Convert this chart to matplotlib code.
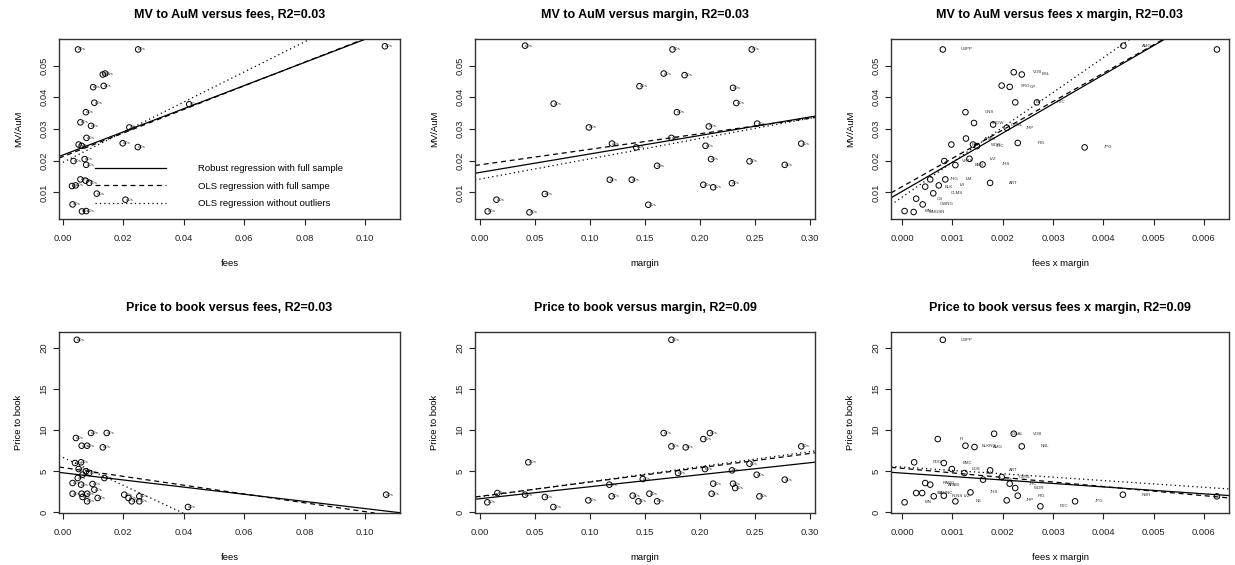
"""
MV/AuM と Price to book を fees / margin / fees x margin に対して散布図で描く
（R の base graphics 風の 2x3 パネル）
"""

import numpy as np
import matplotlib
matplotlib.use('Agg')
import matplotlib.pyplot as plt
from matplotlib.transforms import offset_copy

plt.rcParams['font.family'] = ['Liberation Sans', 'DejaVu Sans']

# ---- データ ----
# MV to AuM vs fees
mv_fees_x = [0.0050, 0.0249, 0.1066, 0.0132, 0.0140, 0.0100, 0.0135, 0.0104, 0.0076, 0.0058,
             0.0093, 0.0078, 0.0052, 0.0062, 0.0220, 0.0198, 0.0248, 0.0418, 0.0035, 0.0072,
             0.0077, 0.0058, 0.0075, 0.0087, 0.0030, 0.0042, 0.0112, 0.0207, 0.0032, 0.0063, 0.0077]
mv_fees_y = [0.0551, 0.0551, 0.0561, 0.0472, 0.0475, 0.0432, 0.0436, 0.0383, 0.0353, 0.0321,
             0.0310, 0.0272, 0.0251, 0.0247, 0.0305, 0.0255, 0.0243, 0.0378, 0.0199, 0.0205,
             0.0187, 0.0141, 0.0137, 0.0130, 0.0120, 0.0122, 0.0096, 0.0077, 0.0062, 0.0040, 0.0041]

# MV to AuM vs margin
mv_margin_x = [0.041, 0.175, 0.247, 0.167, 0.186, 0.145, 0.230, 0.067, 0.233, 0.179, 0.099,
               0.208, 0.252, 0.120, 0.142, 0.174, 0.205, 0.292, 0.161, 0.210, 0.245, 0.277,
               0.118, 0.138, 0.203, 0.212, 0.229, 0.059, 0.015, 0.153, 0.007, 0.045]
mv_margin_y = [0.0563, 0.0551, 0.0551, 0.0475, 0.0470, 0.0435, 0.0430, 0.0380, 0.0382, 0.0353,
               0.0305, 0.0308, 0.0317, 0.0254, 0.0242, 0.0272, 0.0247, 0.0254, 0.0184, 0.0205,
               0.0198, 0.0187, 0.0140, 0.0140, 0.0124, 0.0116, 0.0129, 0.0095, 0.0077, 0.0061,
               0.0040, 0.0037]

# MV to AuM vs fees x margin（右端の点のラベルは R では枠外で見えない）
mv_fxm_x = [0.00081, 0.00440, 0.00626, 0.00222, 0.00238, 0.00198, 0.00214, 0.00225, 0.00268,
            0.00126, 0.00143, 0.00181, 0.00208, 0.00127, 0.00098, 0.00141, 0.00149, 0.00230,
            0.00363, 0.00084, 0.00106, 0.00134, 0.00160, 0.00175, 0.00056, 0.00086, 0.00046,
            0.00073, 0.00062, 0.00028, 0.00041, 0.00005, 0.00023]
mv_fxm_y = [0.0551, 0.0563, 0.0551, 0.0479, 0.0472, 0.0437, 0.0433, 0.0384, 0.0384, 0.0353,
            0.0319, 0.0314, 0.0304, 0.0270, 0.0251, 0.0251, 0.0246, 0.0256, 0.0242, 0.0199,
            0.0186, 0.0206, 0.0188, 0.0130, 0.0141, 0.0141, 0.0118, 0.0122, 0.0097, 0.0080,
            0.0062, 0.0041, 0.0038]
mv_fxm_labels = ['UBPP', 'AMG', '', 'VOB', 'BSL', 'SRG', 'GP', 'EV', 'RJC', 'CNS', 'TROW',
                 'OVNL', 'JHP', 'APAM', 'FHI', 'WDR', 'JHC', 'PIG', 'JPG', 'VRTS', 'BEN', 'IVZ',
                 'JHS', 'ART', 'JHG', 'LM', 'BLK', 'IVI', 'CLMS', 'CS', 'CWNG', 'MN', 'MNGSN']

# Price to book vs fees
pb_fees_x = [0.0046, 0.0043, 0.0093, 0.0145, 0.0062, 0.0080, 0.0132, 0.0040, 0.0060, 0.0052,
             0.0076, 0.0087, 0.0065, 0.0049, 0.0137, 0.0032, 0.0060, 0.0098, 0.0104, 0.0032,
             0.0062, 0.0080, 0.0115, 0.0065, 0.0080, 0.0203, 0.0217, 0.0228, 0.0253, 0.0253,
             0.1070, 0.0414]
pb_fees_y = [21.0, 9.05, 9.66, 9.66, 8.11, 8.11, 7.91, 6.01, 6.09, 5.27, 4.99, 4.79, 4.59,
             4.18, 4.18, 3.57, 3.37, 3.45, 2.76, 2.27, 2.27, 2.27, 1.75, 1.87, 1.34, 2.15,
             1.75, 1.34, 1.95, 1.34, 2.15, 0.65]

# Price to book vs margin
pb_margin_x = [0.174, 0.167, 0.209, 0.203, 0.174, 0.187, 0.292, 0.044, 0.245, 0.2045, 0.229,
               0.180, 0.2515, 0.148, 0.1176, 0.212, 0.230, 0.232, 0.277, 0.254, 0.041, 0.0158,
               0.059, 0.1197, 0.1388, 0.154, 0.2106, 0.0985, 0.144, 0.161, 0.0067, 0.0667]
pb_margin_y = [21.0, 9.65, 9.65, 8.92, 8.03, 7.91, 8.03, 6.09, 5.92, 5.27, 5.11, 4.79, 4.58,
               4.06, 3.37, 3.49, 3.49, 2.96, 3.98, 1.95, 2.15, 2.35, 1.87, 1.95, 2.03, 2.27,
               2.27, 1.46, 1.34, 1.34, 1.22, 0.65]

# Price to book vs fees x margin
pb_fxm_x = [0.00081, 0.00071, 0.00183, 0.00222, 0.00126, 0.00144, 0.00238, 0.00024, 0.00083,
            0.00099, 0.00124, 0.00175, 0.00161, 0.00198, 0.00214, 0.00046, 0.00056, 0.00225,
            0.00028, 0.00040, 0.00063, 0.00083, 0.00136, 0.00208, 0.00230, 0.00106, 0.00005,
            0.00275, 0.00344, 0.00439, 0.00626]
pb_fxm_y = [21.0, 8.92, 9.57, 9.57, 8.11, 7.95, 8.03, 6.09, 6.00, 5.27, 4.79, 5.11, 3.98,
            4.30, 3.49, 3.57, 3.37, 2.96, 2.35, 2.35, 1.95, 2.03, 2.43, 1.46, 2.03, 1.34,
            1.22, 0.73, 1.34, 2.15, 1.95]
pb_fxm_labels = ['UBPP', 'FI', 'GHAL', 'VOB', 'BLKNC', 'AMG', 'NBL', 'FDG', 'BMC', 'LDS', 'EV',
                 'ART', 'TROW', 'OVNL', 'JHC', 'RABG', 'APAM', 'WDR', 'CS', 'BAUNC', 'FLNS',
                 'IVZ', 'JHS', 'JHP', 'PIG', 'NE', 'MN', 'RJC', 'JPG', 'NSR', '']

# 回帰直線（切片, 傾き）: robust / OLS / OLS without outliers
mv_fees_fits = [(0.0218, 0.365), (0.0213, 0.372), (0.0195, 0.475)]
mv_margin_fits = [(0.0163, 0.0583), (0.0187, 0.049), (0.0142, 0.064)]
mv_fxm_fits = [(0.0103, 9.2), (0.0118, 8.95), (0.0085, 11.0)]
pb_fees_fits = [(4.81, -43.5), (5.45, -53.6), (6.68, -170.0)]
pb_margin_fits = [(1.66, 14.6), (1.95, 17.4), (1.90, 18.3)]
pb_fxm_fits = [(4.78, -421.0), (5.36, -555.0), (5.51, -410.0)]

fit_names = ['Robust regression with full sample',
             'OLS regression with full sampe',
             'OLS regression without outliers']

LINE_STYLES = ['-', (0, (4, 3)), (0, (1, 2.5))]


def scatter_panel(ax, x, y, fits, title, xlabel, ylabel, xlim, ylim, xticks, yticks,
                  labels=None, label_offset=3):
    """R 風の散布図パネル"""
    ax.scatter(x, y, s=16, facecolors='none', edgecolors='black', linewidths=0.7, zorder=3)

    # ラベル（判読不能な小さいティッカー）、R と同じくプロット領域でクリップ
    if labels is None:
        labels = ['cOs'] * len(x)
    trans = offset_copy(ax.transData, fig=ax.figure, x=label_offset, y=0, units='points')
    for xi, yi, lab in zip(x, y, labels):
        if not lab:
            continue
        ax.text(xi, yi, lab, transform=trans, ha='center', va='center',
                fontsize=3.2, color='#333333', zorder=2, clip_on=True)

    for (a, b), ls, name in zip(fits, LINE_STYLES, fit_names):
        ax.axline((0, a), slope=b, color='black', lw=0.9, ls=ls, label=name)

    ax.set_xlim(*xlim)
    ax.set_ylim(*ylim)
    ax.set_xticks(xticks)
    ax.set_yticks(yticks)
    ax.tick_params(direction='out', length=4, width=0.8, labelsize=6.8, colors='#222222')
    ax.tick_params(axis='x', pad=7)
    for lab in ax.get_yticklabels():
        lab.set_rotation(90)
        lab.set_va('center')
    for sp in ax.spines.values():
        sp.set_linewidth(1.0)
        sp.set_color('#333333')
    ax.set_title(title, fontsize=9, fontweight='bold', pad=15)
    ax.set_xlabel(xlabel, fontsize=6.8, labelpad=11)
    ax.set_ylabel(ylabel, fontsize=6.8, labelpad=12)


fig = plt.figure(figsize=(12.35, 5.65), dpi=100)

col_left = [59 / 1235, 475 / 1235, 891 / 1235]
col_w = [341 / 1235, 340 / 1235, 338 / 1235]
row_bottom = [1 - 219 / 565, 1 - 513 / 565]
row_h = [180 / 565, 181 / 565]

axes = [[fig.add_axes([col_left[c], row_bottom[r], col_w[c], row_h[r]]) for c in range(3)]
        for r in range(2)]

mv_ylim = (0.0016, 0.0584)
mv_yticks = [0.01, 0.02, 0.03, 0.04, 0.05]
pb_ylim = (-0.08, 21.95)
pb_yticks = [0, 5, 10, 15, 20]
fees_xlim = (-0.0013, 0.1116)
fees_xticks = [0.00, 0.02, 0.04, 0.06, 0.08, 0.10]
margin_xlim = (-0.0045, 0.3045)
margin_xticks = [0.00, 0.05, 0.10, 0.15, 0.20, 0.25, 0.30]
fxm_xlim = (-0.00022, 0.0065)
fxm_xticks = [0.000, 0.001, 0.002, 0.003, 0.004, 0.005, 0.006]

scatter_panel(axes[0][0], mv_fees_x, mv_fees_y, mv_fees_fits,
              'MV to AuM versus fees, R2=0.03', 'fees', 'MV/AuM',
              fees_xlim, mv_ylim, fees_xticks, mv_yticks)
scatter_panel(axes[0][1], mv_margin_x, mv_margin_y, mv_margin_fits,
              'MV to AuM versus margin, R2=0.03', 'margin', 'MV/AuM',
              margin_xlim, mv_ylim, margin_xticks, mv_yticks)
scatter_panel(axes[0][2], mv_fxm_x, mv_fxm_y, mv_fxm_fits,
              'MV to AuM versus fees x margin, R2=0.03', 'fees x margin', 'MV/AuM',
              fxm_xlim, mv_ylim, fxm_xticks, mv_yticks,
              labels=mv_fxm_labels, label_offset=17)
scatter_panel(axes[1][0], pb_fees_x, pb_fees_y, pb_fees_fits,
              'Price to book versus fees, R2=0.03', 'fees', 'Price to book',
              fees_xlim, pb_ylim, fees_xticks, pb_yticks)
scatter_panel(axes[1][1], pb_margin_x, pb_margin_y, pb_margin_fits,
              'Price to book versus margin, R2=0.09', 'margin', 'Price to book',
              margin_xlim, pb_ylim, margin_xticks, pb_yticks)
scatter_panel(axes[1][2], pb_fxm_x, pb_fxm_y, pb_fxm_fits,
              'Price to book versus fees x margin, R2=0.09', 'fees x margin', 'Price to book',
              fxm_xlim, pb_ylim, fxm_xticks, pb_yticks,
              labels=pb_fxm_labels, label_offset=17)

# 凡例（枠なし）
axes[0][0].legend(loc='upper left', bbox_to_anchor=(95 / 1235, 1 - 164 / 565),
                  bbox_transform=fig.transFigure, frameon=False, fontsize=6.8,
                  handlelength=7.5, handletextpad=3.4, labelspacing=0.9,
                  borderpad=0, borderaxespad=0)

fig.savefig('out.png', dpi=100)
